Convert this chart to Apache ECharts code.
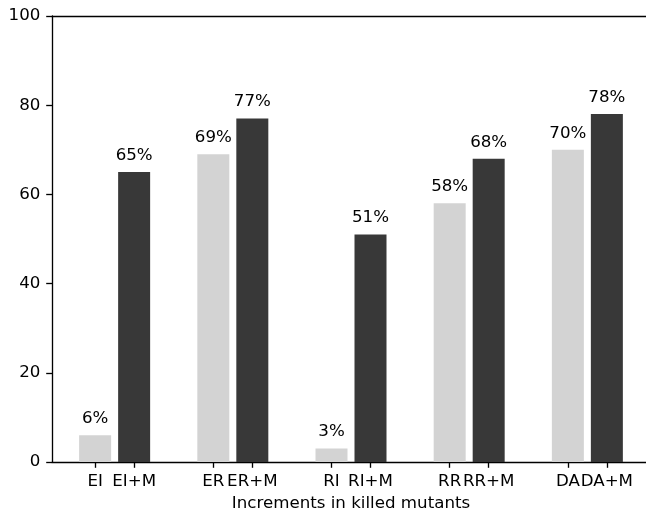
<!DOCTYPE html>
<html>
<head>
<meta charset="utf-8">
<script src="https://cdn.jsdelivr.net/npm/echarts@6/dist/echarts.min.js"></script>
<style>
html,body{margin:0;padding:0;background:#fff;overflow:hidden;}
#chart{width:646px;height:513px;}
</style>
</head>
<body>
<div id="chart"></div>
<script>
const groups = ['EI', 'ER', 'RI', 'RR', 'DA'];
const baseLabels = ['EI', 'ER', 'RI', 'RR', 'DA'];
const mutLabels = ['EI+M', 'ER+M', 'RI+M', 'RR+M', 'DA+M'];
const baseValues = [6, 69, 3, 58, 70];
const mutValues = [65, 77, 51, 68, 78];
const yTicks = [0, 20, 40, 60, 80, 100];
const xTitle = 'Increments in killed mutants';

const off = 0.165;
const basePos = groups.map((g, i) => i - off);
const mutPos = groups.map((g, i) => i + off);
const tickPos = [];
const tickText = {};
groups.forEach((g, i) => {
  tickPos.push(basePos[i], mutPos[i]);
  tickText[basePos[i].toFixed(3)] = baseLabels[i];
  tickText[mutPos[i].toFixed(3)] = mutLabels[i];
});

const font = 'DejaVu Sans';
const fs = 16.67;
const chart = echarts.init(document.getElementById('chart'), null, {renderer: 'canvas'});
const labelCfg = {
  show: true, position: 'top', distance: 8,
  formatter: p => p.value[1] + '%',
  color: '#000', fontFamily: font, fontSize: fs
};
chart.setOption({
  animation: false,
  grid: {left: 52, right: -4, top: 16, bottom: 51, containLabel: false, outerBoundsMode: 'none'},
  xAxis: [{
    type: 'value', min: -0.53, max: 4.53, position: 'bottom',
    splitLine: {show: false},
    axisLine: {show: true, onZero: false, lineStyle: {color: '#000', width: 1.33}},
    axisTick: {show: true, length: 5.8, customValues: tickPos, lineStyle: {color: '#000', width: 1.33}},
    axisLabel: {
      customValues: tickPos, margin: 11, color: '#000', fontFamily: font, fontSize: fs,
      formatter: v => tickText[Number(v).toFixed(3)] || ''
    },
    name: xTitle, nameLocation: 'middle', nameGap: 32,
    nameTextStyle: {color: '#000', fontFamily: font, fontSize: fs}
  }, {
    type: 'value', min: -0.53, max: 4.53, position: 'top',
    splitLine: {show: false},
    axisLine: {show: true, onZero: false, lineStyle: {color: '#000', width: 1.33}},
    axisTick: {show: false}, axisLabel: {show: false}
  }],
  yAxis: {
    type: 'value', min: 0, max: 100, interval: 20,
    splitLine: {show: false},
    axisLine: {show: true, onZero: false, lineStyle: {color: '#000', width: 1.33}},
    axisTick: {show: true, length: 5.8, lineStyle: {color: '#000', width: 1.33}},
    axisLabel: {margin: 11.6, color: '#000', fontFamily: font, fontSize: fs,
      customValues: yTicks}
  },
  series: [{
    type: 'bar', xAxisIndex: 0, barWidth: 32, barGap: '-100%',
    itemStyle: {color: '#d3d3d3'},
    label: labelCfg,
    data: baseValues.map((v, i) => [basePos[i], v])
  }, {
    type: 'bar', xAxisIndex: 0, barWidth: 32, barGap: '-100%',
    itemStyle: {color: '#383838'},
    label: labelCfg,
    data: mutValues.map((v, i) => [mutPos[i], v])
  }]
});
</script>
</body>
</html>
